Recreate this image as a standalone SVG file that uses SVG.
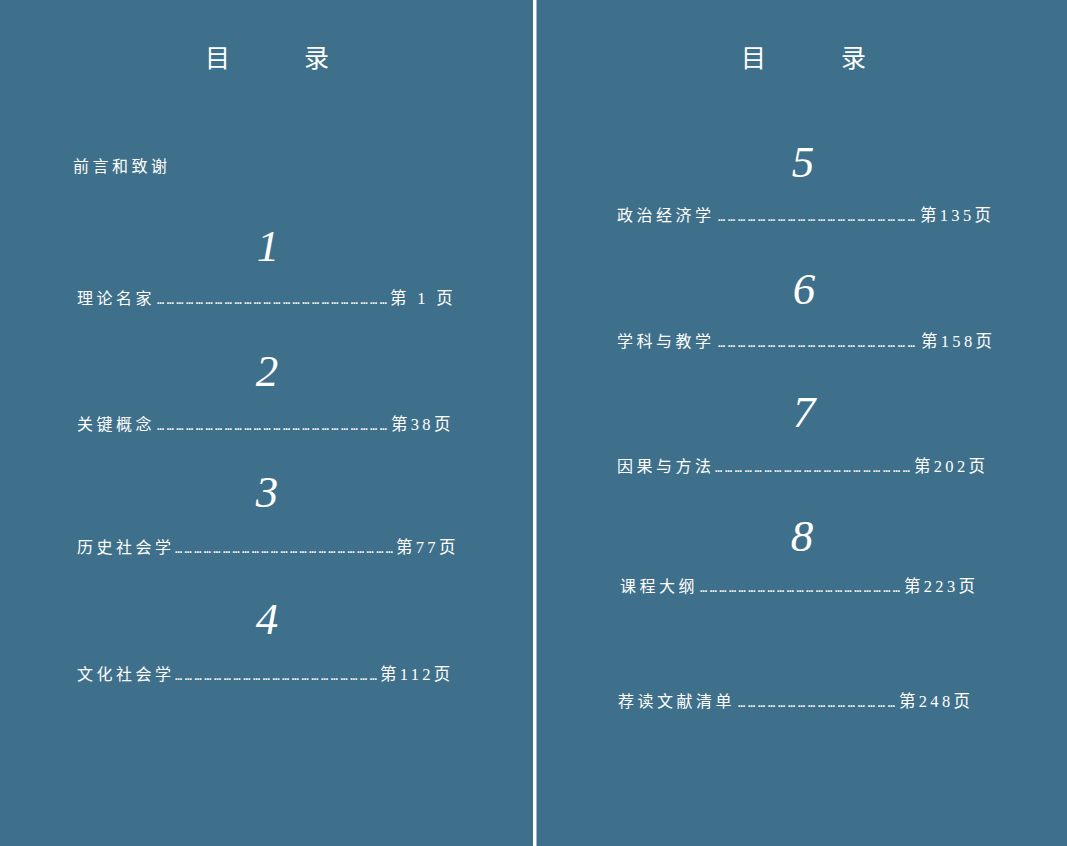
<svg xmlns="http://www.w3.org/2000/svg" width="1067" height="846" viewBox="0 0 1067 846">
<style>
.bg{fill:#3e6f8b}
.ttl{font-family:"Noto Sans CJK SC",sans-serif;font-size:25px;fill:#ffffff}
.lbl{font-family:"Noto Sans CJK SC",sans-serif;font-size:16px;letter-spacing:3.5px;fill:#ffffff}
.dots{font-family:"DejaVu Sans Mono",monospace;font-size:12px;fill:#ffffff}
.pg{font-family:"Liberation Serif","Noto Sans CJK SC",serif;font-size:16.5px;letter-spacing:3.3px;fill:#ffffff}
.num{font-family:"Liberation Serif",serif;font-style:italic;font-size:45px;fill:#ffffff;text-anchor:middle}
</style>
<rect class="bg" x="0" y="0" width="1067" height="846"/>
<rect x="533" y="0" width="3.5" height="846" fill="#ffffff"/>

<g id="title-left">
<text class="ttl" x="205" y="67">目</text>
<text class="ttl" x="304" y="67">录</text>
</g>
<g id="title-right">
<text class="ttl" x="741" y="67">目</text>
<text class="ttl" x="841" y="67">录</text>
</g>

<g id="preface"><text class="lbl" x="73" y="172">前言和致谢</text></g>

<g id="ch1">
<text class="num" x="268" y="261">1</text>
<text class="lbl" x="77" y="304">理论名家</text>
<text class="dots" x="157" y="304" textLength="230" lengthAdjust="spacing">&#8230;&#8230;&#8230;&#8230;&#8230;&#8230;&#8230;&#8230;&#8230;&#8230;&#8230;&#8230;&#8230;&#8230;&#8230;&#8230;&#8230;&#8230;&#8230;&#8230;&#8230;&#8230;&#8230;&#8230;</text>
<text class="pg" x="390" y="304">第 1 页</text>
</g>
<g id="ch2">
<text class="num" x="267" y="386">2</text>
<text class="lbl" x="77" y="430">关键概念</text>
<text class="dots" x="157" y="430" textLength="230" lengthAdjust="spacing">&#8230;&#8230;&#8230;&#8230;&#8230;&#8230;&#8230;&#8230;&#8230;&#8230;&#8230;&#8230;&#8230;&#8230;&#8230;&#8230;&#8230;&#8230;&#8230;&#8230;&#8230;&#8230;&#8230;&#8230;</text>
<text class="pg" x="391" y="430">第38页</text>
</g>
<g id="ch3">
<text class="num" x="267" y="507">3</text>
<text class="lbl" x="77" y="553">历史社会学</text>
<text class="dots" x="175" y="553" textLength="218" lengthAdjust="spacing">&#8230;&#8230;&#8230;&#8230;&#8230;&#8230;&#8230;&#8230;&#8230;&#8230;&#8230;&#8230;&#8230;&#8230;&#8230;&#8230;&#8230;&#8230;&#8230;&#8230;&#8230;&#8230;&#8230;</text>
<text class="pg" x="396" y="553">第77页</text>
</g>
<g id="ch4">
<text class="num" x="267" y="634">4</text>
<text class="lbl" x="77" y="680">文化社会学</text>
<text class="dots" x="175" y="680" textLength="202" lengthAdjust="spacing">&#8230;&#8230;&#8230;&#8230;&#8230;&#8230;&#8230;&#8230;&#8230;&#8230;&#8230;&#8230;&#8230;&#8230;&#8230;&#8230;&#8230;&#8230;&#8230;&#8230;&#8230;</text>
<text class="pg" x="380" y="680">第112页</text>
</g>

<g id="ch5">
<text class="num" x="803" y="177">5</text>
<text class="lbl" x="617" y="221">政治经济学</text>
<text class="dots" x="718" y="221" textLength="197" lengthAdjust="spacing">&#8230;&#8230;&#8230;&#8230;&#8230;&#8230;&#8230;&#8230;&#8230;&#8230;&#8230;&#8230;&#8230;&#8230;&#8230;&#8230;&#8230;&#8230;&#8230;&#8230;</text>
<text class="pg" x="920" y="221">第135页</text>
</g>
<g id="ch6">
<text class="num" x="804" y="304">6</text>
<text class="lbl" x="617" y="347">学科与教学</text>
<text class="dots" x="718" y="347" textLength="197" lengthAdjust="spacing">&#8230;&#8230;&#8230;&#8230;&#8230;&#8230;&#8230;&#8230;&#8230;&#8230;&#8230;&#8230;&#8230;&#8230;&#8230;&#8230;&#8230;&#8230;&#8230;&#8230;</text>
<text class="pg" x="921" y="347">第158页</text>
</g>
<g id="ch7">
<text class="num" x="804" y="427">7</text>
<text class="lbl" x="617" y="472">因果与方法</text>
<text class="dots" x="715" y="472" textLength="195" lengthAdjust="spacing">&#8230;&#8230;&#8230;&#8230;&#8230;&#8230;&#8230;&#8230;&#8230;&#8230;&#8230;&#8230;&#8230;&#8230;&#8230;&#8230;&#8230;&#8230;&#8230;&#8230;</text>
<text class="pg" x="914" y="472">第202页</text>
</g>
<g id="ch8">
<text class="num" x="802" y="551">8</text>
<text class="lbl" x="620" y="592">课程大纲</text>
<text class="dots" x="700" y="592" textLength="200" lengthAdjust="spacing">&#8230;&#8230;&#8230;&#8230;&#8230;&#8230;&#8230;&#8230;&#8230;&#8230;&#8230;&#8230;&#8230;&#8230;&#8230;&#8230;&#8230;&#8230;&#8230;&#8230;&#8230;</text>
<text class="pg" x="904" y="592">第223页</text>
</g>
<g id="reading">
<text class="lbl" x="618" y="707">荐读文献清单</text>
<text class="dots" x="738" y="707" textLength="157" lengthAdjust="spacing">&#8230;&#8230;&#8230;&#8230;&#8230;&#8230;&#8230;&#8230;&#8230;&#8230;&#8230;&#8230;&#8230;&#8230;&#8230;&#8230;</text>
<text class="pg" x="899" y="707">第248页</text>
</g>
</svg>
